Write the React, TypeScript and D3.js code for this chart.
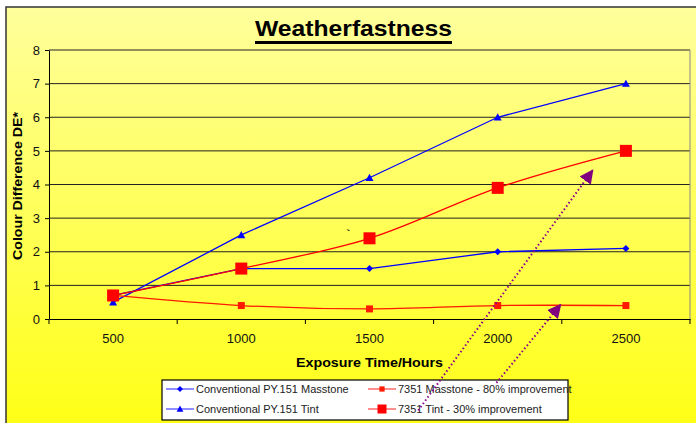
import * as d3 from 'd3';
import React, { useEffect, useRef } from 'react';

const hours = ['500', '1000', '1500', '2000', '2500'];
const convMasstone = [0.7, 1.5, 1.5, 2.0, 2.1];
const convTint = [0.5, 2.5, 4.2, 6.0, 7.0];
const masstone7351 = [0.7, 0.4, 0.3, 0.4, 0.4];
const tint7351 = [0.7, 1.5, 2.4, 3.9, 5.0];
const yTicks = [0, 1, 2, 3, 4, 5, 6, 7, 8];

// annotation arrows, in (category index, value) space
const arrows = [
  { from: [2.38, -2.72], to: [3.74, 4.42] },
  { from: [2.99, -1.9], to: [3.49, 0.42] },
];

const W = 696;
const H = 423;
const margin = { left: 49, top: 50, right: 6, bottom: 104 };
const FONT = 'Arial, "Liberation Sans", sans-serif';

const App = () => {
  const svgRef = useRef(null);

  useEffect(() => {
    document.body.style.margin = '0';
    const svg = d3.select(svgRef.current);
    svg.selectAll('*').remove();

    const x0 = margin.left;
    const x1 = W - margin.right;
    const y0 = H - margin.bottom;
    const y1 = margin.top;

    const x = d3.scaleBand().domain(hours).range([x0, x1]);
    const xi = d3
      .scaleLinear()
      .domain([0, hours.length - 1])
      .range([x(hours[0]) + x.bandwidth() / 2, x(hours[hours.length - 1]) + x.bandwidth() / 2]);
    const y = d3.scaleLinear().domain([0, 8]).range([y0, y1]);

    const defs = svg.append('defs');
    const grad = defs
      .append('linearGradient')
      .attr('id', 'bg')
      .attr('x1', 0)
      .attr('y1', 0)
      .attr('x2', 0)
      .attr('y2', 1);
    grad.append('stop').attr('offset', '0%').attr('stop-color', '#ffff9c');
    grad.append('stop').attr('offset', '100%').attr('stop-color', '#ffff14');

    defs
      .append('marker')
      .attr('id', 'head')
      .attr('viewBox', '0 0 10 10')
      .attr('refX', 9)
      .attr('refY', 5)
      .attr('markerWidth', 7)
      .attr('markerHeight', 7)
      .attr('markerUnits', 'strokeWidth')
      .attr('orient', 'auto')
      .append('path')
      .attr('d', 'M0,0 L10,5 L0,10 Z')
      .attr('fill', '#800080');

    // chart area
    svg
      .append('rect')
      .attr('x', 6)
      .attr('y', 7)
      .attr('width', W)
      .attr('height', H)
      .attr('fill', 'url(#bg)')
      .attr('stroke', '#333')
      .attr('stroke-width', 1.5);

    // title
    svg
      .append('text')
      .attr('x', 255)
      .attr('y', 36)
      .attr('font-family', FONT)
      .attr('font-weight', 'bold')
      .attr('font-size', 21.5)
      .attr('textLength', 197)
      .attr('lengthAdjust', 'spacingAndGlyphs')
      .text('Weatherfastness');
    svg
      .append('rect')
      .attr('x', 255)
      .attr('y', 41)
      .attr('width', 197)
      .attr('height', 3)
      .attr('fill', '#000');

    // gridlines
    svg
      .append('g')
      .selectAll('line')
      .data(yTicks.slice(1))
      .join('line')
      .attr('x1', x0)
      .attr('x2', x1)
      .attr('y1', (d) => y(d))
      .attr('y2', (d) => y(d))
      .attr('stroke', '#222')
      .attr('stroke-width', 1);

    // plot border right
    svg
      .append('line')
      .attr('x1', x1)
      .attr('x2', x1)
      .attr('y1', y1)
      .attr('y2', y0)
      .attr('stroke', '#888');

    // axes
    const yAxis = svg
      .append('g')
      .attr('transform', `translate(${x0},0)`)
      .call(d3.axisLeft(y).tickValues(yTicks).tickSize(4).tickSizeOuter(0));
    yAxis.select('.domain').attr('stroke', '#000');
    yAxis
      .selectAll('text')
      .attr('font-family', FONT)
      .attr('font-size', 13)
      .attr('fill', '#111')
      .attr('dx', -2);

    const xAxis = svg
      .append('g')
      .attr('transform', `translate(0,${y0})`)
      .call(d3.axisBottom(x).tickSize(0).tickSizeOuter(0));
    xAxis.select('.domain').attr('stroke', '#000');
    xAxis
      .selectAll('text')
      .attr('font-family', FONT)
      .attr('font-size', 13)
      .attr('fill', '#111')
      .attr('dy', '1.6em');
    xAxis
      .append('g')
      .selectAll('line')
      .data(hours.map((h) => x(h)).concat([x1]))
      .join('line')
      .attr('x1', (d) => d)
      .attr('x2', (d) => d)
      .attr('y1', 0)
      .attr('y2', 5)
      .attr('stroke', '#000');

    // axis titles
    svg
      .append('text')
      .attr('x', 296)
      .attr('y', 367)
      .attr('font-family', FONT)
      .attr('font-weight', 'bold')
      .attr('font-size', 13.5)
      .attr('textLength', 147)
      .attr('lengthAdjust', 'spacingAndGlyphs')
      .text('Exposure Time/Hours');
    svg
      .append('text')
      .attr('transform', `translate(22,260) rotate(-90)`)
      .attr('font-family', FONT)
      .attr('font-weight', 'bold')
      .attr('font-size', 13.5)
      .attr('textLength', 148)
      .attr('lengthAdjust', 'spacingAndGlyphs')
      .text('Colour Difference DE*');

    // stray mark
    svg
      .append('text')
      .attr('x', xi(1.82))
      .attr('y', y(2.45))
      .attr('font-family', FONT)
      .attr('font-size', 11)
      .attr('font-weight', 'bold')
      .text('`');

    const straight = d3
      .line<number>()
      .x((d, i) => xi(i))
      .y((d) => y(d));
    const smooth = d3
      .line<number>()
      .x((d, i) => xi(i))
      .y((d) => y(d))
      .curve(d3.curveCatmullRom.alpha(0.5));

    const series = [
      { name: 'Conventional PY.151 Masstone', data: convMasstone, color: '#0000ff', legend: '#6a6aff', shape: 'diamond', size: 7, gen: straight },
      { name: 'Conventional PY.151 Tint', data: convTint, color: '#0000ff', legend: '#6a6aff', shape: 'triangle', size: 8, gen: straight },
      { name: '7351 Masstone - 80% improvement', data: masstone7351, color: '#ff1a00', legend: '#ff6a6a', shape: 'square', size: 7, gen: smooth },
      { name: '7351 Tint - 30% improvement', data: tint7351, color: '#ff0000', legend: '#ff6a6a', shape: 'square', size: 12, gen: smooth },
    ];

    const markerPath = (shape: string, s: number) => {
      const h = s / 2;
      if (shape === 'diamond') return `M0,${-h} L${h},0 L0,${h} L${-h},0 Z`;
      if (shape === 'triangle') return `M0,${-h} L${h},${h * 0.8} L${-h},${h * 0.8} Z`;
      return `M${-h},${-h} H${h} V${h} H${-h} Z`;
    };

    series.forEach((s) => {
      svg
        .append('path')
        .attr('d', s.gen(s.data))
        .attr('fill', 'none')
        .attr('stroke', s.color)
        .attr('stroke-width', 1.3);
    });
    series.forEach((s) => {
      svg
        .append('g')
        .selectAll('path')
        .data(s.data)
        .join('path')
        .attr('transform', (d, i) => `translate(${xi(i)},${y(d)})`)
        .attr('d', markerPath(s.shape, s.size))
        .attr('fill', s.color);
    });

    // legend
    const lg = svg.append('g');
    lg.append('rect')
      .attr('x', 162)
      .attr('y', 380)
      .attr('width', 406)
      .attr('height', 40)
      .attr('fill', '#fff')
      .attr('stroke', '#000')
      .attr('stroke-width', 1.2);
    const pos = [
      [166, 389],
      [166, 409],
      [368, 389],
      [368, 409],
    ];
    series.forEach((s, i) => {
      const [lx, ly] = pos[i];
      lg.append('line')
        .attr('x1', lx)
        .attr('x2', lx + 28)
        .attr('y1', ly)
        .attr('y2', ly)
        .attr('stroke', s.legend)
        .attr('stroke-width', 1.5);
      lg.append('path')
        .attr('transform', `translate(${lx + 14},${ly})`)
        .attr('d', markerPath(s.shape, s.shape === 'square' ? s.size * 0.75 : s.size * 0.85))
        .attr('fill', s.color);
      lg.append('text')
        .attr('x', lx + 30)
        .attr('y', ly + 4)
        .attr('font-family', FONT)
        .attr('font-size', 11)
        .attr('fill', '#222')
        .text(s.name);
    });

    // arrows
    arrows.forEach((a) => {
      svg
        .append('line')
        .attr('x1', xi(a.from[0]))
        .attr('y1', y(a.from[1]))
        .attr('x2', xi(a.to[0]))
        .attr('y2', y(a.to[1]))
        .attr('stroke', '#8a008a')
        .attr('stroke-width', 2)
        .attr('stroke-dasharray', '1.5,2.5')
        .attr('marker-end', 'url(#head)');
    });
  }, []);

  return (
    <svg
      ref={svgRef}
      width={W}
      height={H}
      style={{ position: 'absolute', left: 0, top: 0, background: '#fff' }}
    />
  );
};

export default App;
